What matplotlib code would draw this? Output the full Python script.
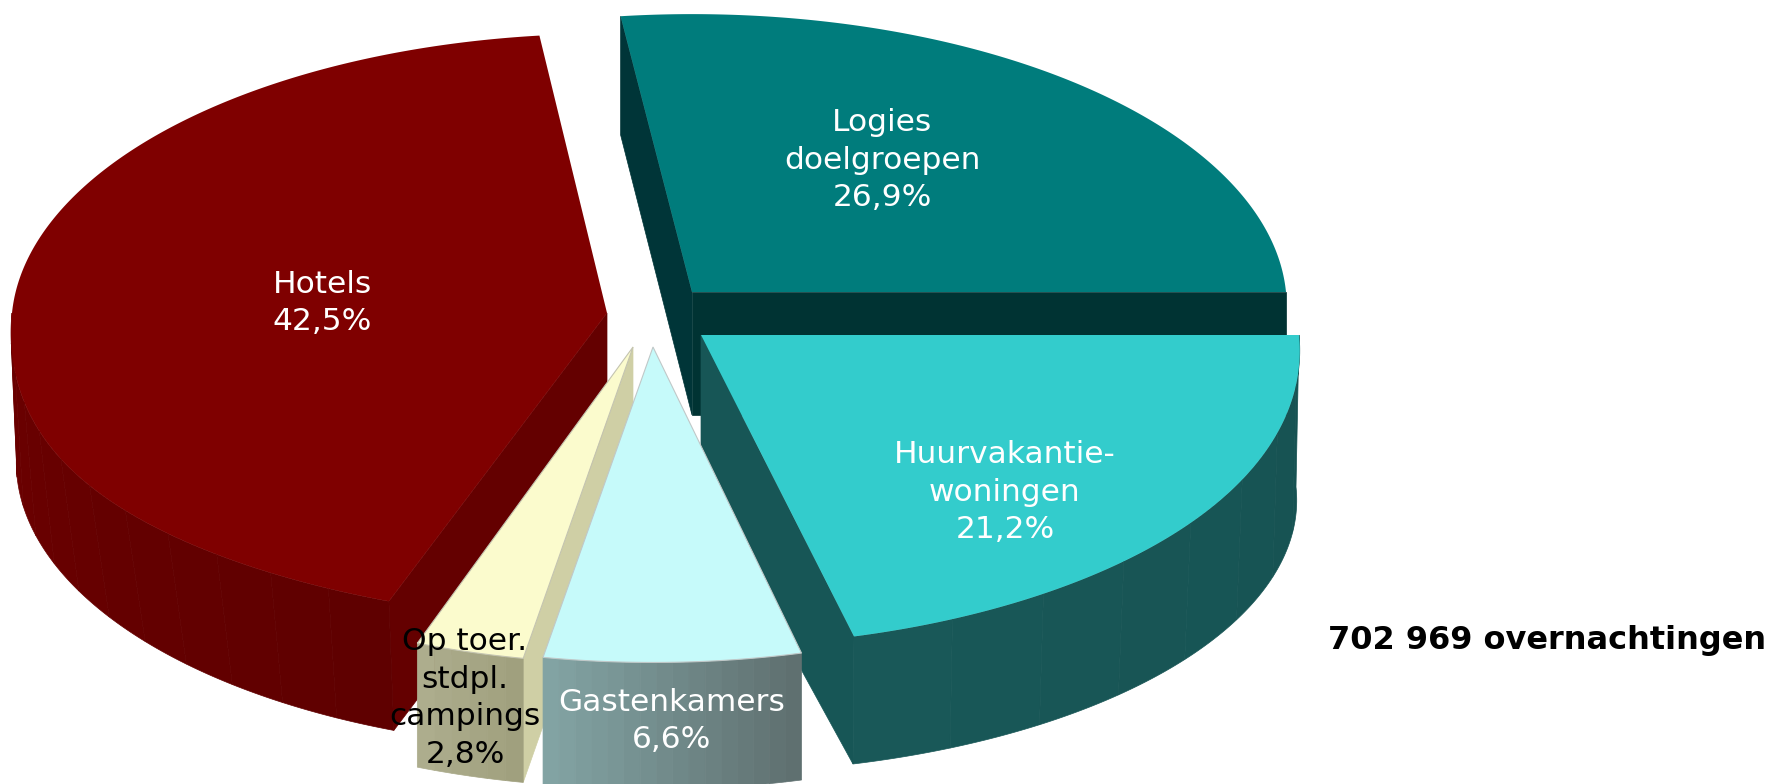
"""
exploded 3D pie: overnachtingen per logiesvorm
"""
import numpy as np
import matplotlib; matplotlib.use('Agg')
import matplotlib.pyplot as plt
from matplotlib.patches import Polygon
from matplotlib.colors import to_rgb

# ================ Data ================
names = ['Logies\ndoelgroepen', 'Hotels', 'Op toer.\nstdpl.\ncampings', 'Gastenkamers', 'Huurvakantie-\nwoningen']
values = [26.9, 42.5, 2.8, 6.6, 21.2]
total_text = '702 969 overnachtingen'

# ================ Geometry per slice (pixels) ================
cx = [692, 607, 633, 653, 701]
cy = [292, 313, 347, 347, 335]
rx_top = [594, 595, 597, 598, 598]
ry_top = [291.5, 293, 301, 300, 296]
depth = [123, 135, 123, 130, 152]
rx_bot = [594, 590, 597, 598, 595]
ry_bot = [296, 287, 302, 297, 272]
bulge_top = [0, 0.035, 0, 0, 0.008]   # near rim runs a bit wider than the plain ellipse
nudge_start = [0, 0, 0, 0, 0.4]
nudge_end = [0.4, 0, 0, 0, 0]
persp = 0.049   # far side of the disc shrinks, near side grows

col_top = ['#007c7c', '#7f0000', '#fbfbcd', '#c6fafa', '#33cccc']
col_cut_start = ['#003333', '#640000', '#cfcfa5', '#7fa0a0', '#175656']
col_cut_end = ['#003538', '#640000', '#cfcfa5', '#5e6e6e', '#175656']
col_wall_l = ['#003333', '#6c0000', '#aeae8e', '#83a5a5', '#195858']
col_wall_r = ['#003333', '#5e0000', '#9f9f7c', '#5e6e6e', '#165252']
col_text = ['white', 'white', 'black', 'white', 'white']
edge_top = ['none', 'none', '#c4c4b0', '#c0c8c8', 'none']
n_bands = [1, 12, 6, 16, 8]

label_xy = [(882, 160), (322, 303), (465, 698), (672, 721), (1005, 492)]
draw_order = [0, 4, 1, 2, 3]

# ================ Helpers ================
def rim(i, deg, rx, ry, y0, bulge=0.0):
    t = np.radians(deg)
    s, c = np.sin(t), np.cos(t)
    w = 1 + persp * s
    grow = 1 + bulge * np.where(s < 0, np.sin(2 * t) ** 2, 0)
    return cx[i] + rx * c / w * grow, y0 - ry * s / w

def rim_top(i, deg):
    return rim(i, deg, rx_top[i], ry_top[i], cy[i], bulge_top[i])

def rim_bot(i, deg):
    return rim(i, deg, rx_bot[i], ry_bot[i], cy[i] + depth[i])

def lerp_col(c1, c2, f):
    a, b = np.array(to_rgb(c1)), np.array(to_rgb(c2))
    return tuple(a + (b - a) * f)

def cut_face(ax, i, deg, color):
    x0, y0 = rim_top(i, deg)
    x1, y1 = rim_bot(i, deg)
    pts = [(cx[i], cy[i]), (x0, y0), (x1, y1), (cx[i], cy[i] + depth[i])]
    ax.add_patch(Polygon(pts, closed=True, fc=color, ec=color, lw=0.5))

def outer_wall(ax, i, a0, a1):
    # flat colour bands from left to right along the wall
    lo, hi = max(a0, 180), min(a1, 360)
    if hi <= lo:
        return
    edges = np.linspace(lo, hi, n_bands[i] + 1)
    for k in range(n_bands[i]):
        angs = np.linspace(edges[k], edges[k + 1], 30)
        tx, ty = rim_top(i, angs)
        bx, by = rim_bot(i, angs)
        pts = list(zip(tx, ty)) + list(zip(bx[::-1], by[::-1]))
        col = lerp_col(col_wall_l[i], col_wall_r[i], (k + 0.5) / n_bands[i])
        ax.add_patch(Polygon(pts, closed=True, fc=col, ec=col, lw=0.5))

# ================ Plot ================
W, H = 1773, 784
fig = plt.figure(figsize=(W / 100, H / 100), dpi=100)
ax = fig.add_axes([0, 0, 1, 1])
ax.set_xlim(0, W); ax.set_ylim(H, 0); ax.axis('off')

ends = np.cumsum(values) * 3.6
starts = ends - np.array(values) * 3.6

for i in draw_order:
    a0 = starts[i] + nudge_start[i]
    a1 = ends[i] + nudge_end[i]
    # only the cut faces turned towards the viewer show
    if np.cos(np.radians(a0)) > 0:
        cut_face(ax, i, a0, col_cut_start[i])
    if np.cos(np.radians(a1)) < 0:
        cut_face(ax, i, a1, col_cut_end[i])
    outer_wall(ax, i, a0, a1)
    angs = np.linspace(a0, a1, 240)
    xs, ys = rim_top(i, angs)
    pts = [(cx[i], cy[i])] + list(zip(xs, ys))
    ax.add_patch(Polygon(pts, closed=True, fc=col_top[i], ec=edge_top[i], lw=0.8))

for i in range(len(names)):
    txt = '%s\n%s%%' % (names[i], ('%.1f' % values[i]).replace('.', ','))
    ax.text(label_xy[i][0], label_xy[i][1], txt, color=col_text[i], fontsize=22.5,
            ha='center', va='center', linespacing=1.38, family='DejaVu Sans')

ax.text(1766, 641, total_text, color='black', fontsize=23, fontweight='bold',
        ha='right', va='center', family='DejaVu Sans')

plt.savefig('out.png', dpi=100)
plt.close()
